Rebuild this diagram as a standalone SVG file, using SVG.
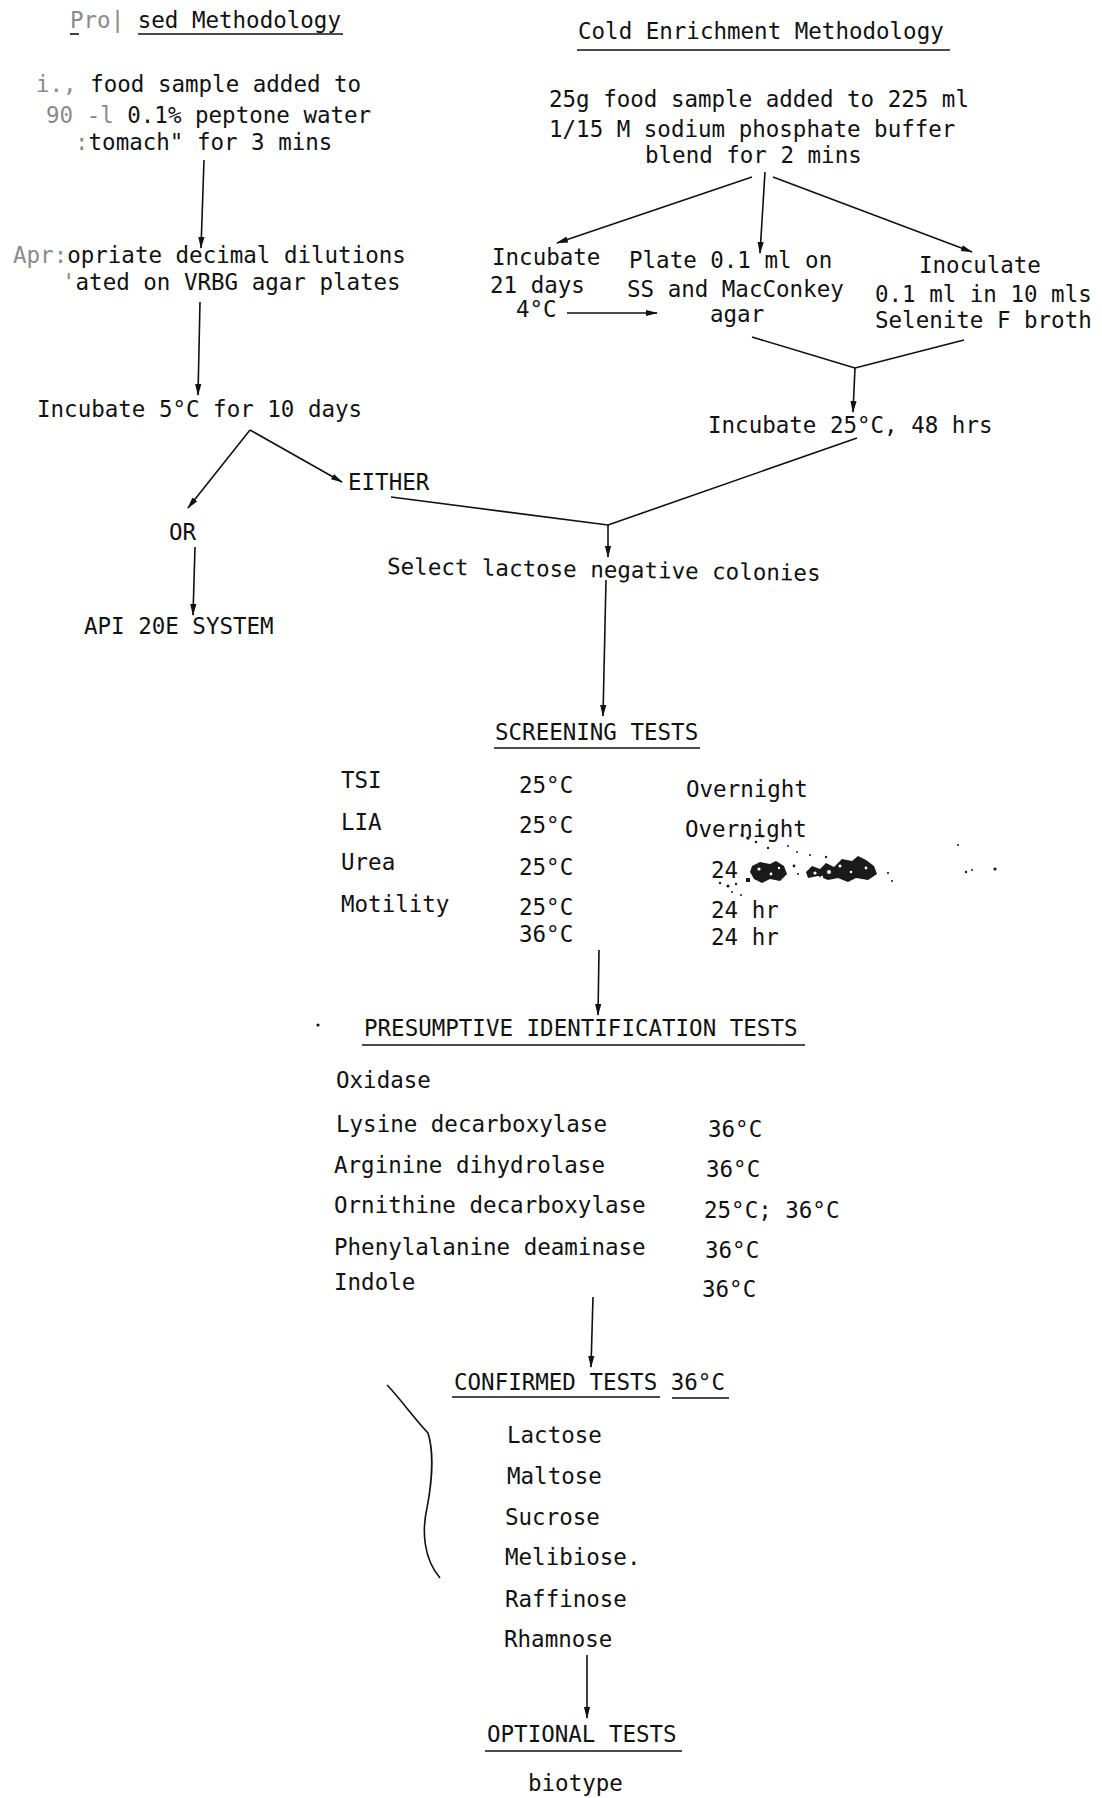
<svg xmlns="http://www.w3.org/2000/svg" width="1102" height="1798" viewBox="0 0 1102 1798">
<defs>
<style>
text{font-family:"DejaVu Sans Mono","Liberation Mono",monospace;font-size:22.5px;fill:#111;}
.faint{fill:#8a8a8a;}
.ul{stroke:#111;stroke-width:1.6;fill:none;}
.c{stroke:#111;stroke-width:1.6;fill:none;}
.a{stroke:#111;stroke-width:1.6;fill:none;marker-end:url(#ah);}
.blot{fill:#1a1a1a;}
.hole{fill:#fff;}
</style>
<marker id="ah" markerWidth="12" markerHeight="8" refX="11" refY="4" orient="auto" markerUnits="userSpaceOnUse">
<path d="M0,0.9 L12,4 L0,7.1 z" fill="#111"/>
</marker>
</defs>
<rect width="1102" height="1798" fill="#fff"/>

<g id="title-proposed">
<text x="70" y="28"><tspan class="faint">Pro|</tspan> sed Methodology</text>
<line class="ul" x1="70" y1="34" x2="79" y2="34"/>
<line class="ul" x1="138" y1="34" x2="343" y2="34"/>
</g>

<g id="title-cold">
<text x="578" y="39">Cold Enrichment Methodology</text>
<line class="ul" x1="577" y1="50" x2="950" y2="50"/>
</g>

<g id="n-food-sample-left">
<text x="36" y="92"><tspan class="faint">i.,</tspan> food sample added to</text>
<text x="46" y="123"><tspan class="faint">90 -l</tspan> 0.1% peptone water</text>
<text x="75" y="150"><tspan class="faint">:</tspan>tomach" for 3 mins</text>
</g>

<g id="n-dilutions">
<text x="13" y="263"><tspan class="faint">Apr:</tspan>opriate decimal dilutions</text>
<text x="62" y="290"><tspan class="faint">'</tspan>ated on VRBG agar plates</text>
</g>

<g id="n-incubate5">
<text x="37" y="417">Incubate 5°C for 10 days</text>
</g>

<g id="n-either"><text x="348" y="490">EITHER</text></g>
<g id="n-or"><text x="169" y="540">OR</text></g>
<g id="n-api"><text x="84" y="634">API 20E SYSTEM</text></g>

<g id="n-cold-sample">
<text x="549" y="107">25g food sample added to 225 ml</text>
<text x="549" y="137">1/15 M sodium phosphate buffer</text>
<text x="645" y="163">blend for 2 mins</text>
</g>

<g id="n-incubate21">
<text x="492" y="265">Incubate</text>
<text x="490" y="293">21 days</text>
<text x="516" y="317">4°C</text>
</g>

<g id="n-plate">
<text x="629" y="268">Plate 0.1 ml on</text>
<text x="627" y="297">SS and MacConkey</text>
<text x="710" y="322">agar</text>
</g>

<g id="n-inoculate">
<text x="919" y="273">Inoculate</text>
<text x="875" y="302">0.1 ml in 10 mls</text>
<text x="875" y="328">Selenite F broth</text>
</g>

<g id="n-incubate25">
<text x="708" y="433">Incubate 25°C, 48 hrs</text>
</g>

<g id="n-select">
<text x="387" y="574" transform="rotate(0.9 387 574)">Select lactose negative colonies</text>
</g>

<g id="n-screening">
<text x="495" y="740">SCREENING TESTS</text>
<line class="ul" x1="494" y1="748" x2="700" y2="748"/>
<text x="341" y="788">TSI</text>
<text x="519" y="793">25°C</text>
<text x="686" y="797">Overnight</text>
<text x="341" y="830">LIA</text>
<text x="519" y="833">25°C</text>
<text x="685" y="837">Overnight</text>
<text x="341" y="870">Urea</text>
<text x="519" y="875">25°C</text>
<text x="711" y="878">24</text>
<text x="341" y="912">Motility</text>
<text x="519" y="915">25°C</text>
<text x="519" y="942">36°C</text>
<text x="711" y="918">24 hr</text>
<text x="711" y="945">24 hr</text>
<g id="smudge">
<path class="blot" d="M752,866 L760,862 L770,864 L776,861 L784,866 L787,874 L780,881 L770,879 L762,883 L754,879 L750,872 z"/>
<circle class="hole" cx="759" cy="869" r="1.6"/>
<circle class="hole" cx="771" cy="874" r="1.4"/>
<circle class="hole" cx="779" cy="868" r="1.2"/>
<path class="blot" d="M806,872 L812,866 L820,869 L826,863 L834,867 L842,859 L852,861 L858,856 L866,860 L874,866 L877,874 L868,880 L856,878 L848,882 L838,878 L828,880 L818,876 L808,878 z"/>
<circle class="hole" cx="815" cy="873" r="1.6"/>
<circle class="hole" cx="829" cy="872" r="2"/>
<circle class="hole" cx="840" cy="866" r="1.5"/>
<circle class="hole" cx="851" cy="872" r="1.3"/>
<circle class="hole" cx="866" cy="868" r="1.4"/>
<circle class="hole" cx="822" cy="877" r="1.2"/>
<rect class="blot" x="746" y="878" width="4" height="4"/>
<circle class="blot" cx="742" cy="835" r="1.5"/>
<circle class="blot" cx="748" cy="838" r="1.8"/>
<circle class="blot" cx="756" cy="842" r="1.3"/>
<circle class="blot" cx="762" cy="836" r="1.6"/>
<circle class="blot" cx="768" cy="848" r="1.2"/>
<circle class="blot" cx="788" cy="846" r="1"/>
<circle class="blot" cx="797" cy="852" r="1"/>
<circle class="blot" cx="810" cy="855" r="1"/>
<circle class="blot" cx="826" cy="857" r="1.2"/>
<circle class="blot" cx="794" cy="866" r="1.4"/>
<circle class="blot" cx="798" cy="874" r="1"/>
<circle class="blot" cx="720" cy="883" r="1.2"/>
<circle class="blot" cx="728" cy="886" r="1.6"/>
<circle class="blot" cx="736" cy="884" r="1.2"/>
<circle class="blot" cx="732" cy="892" r="1"/>
<circle class="blot" cx="741" cy="895" r="1"/>
<circle class="blot" cx="888" cy="873" r="1.1"/>
<circle class="blot" cx="892" cy="881" r="1"/>
<circle class="blot" cx="958" cy="845" r="1"/>
<circle class="blot" cx="966" cy="872" r="1.2"/>
<circle class="blot" cx="972" cy="870" r="1"/>
<circle class="blot" cx="995" cy="869" r="1.6"/>
</g>
</g>

<g id="n-presumptive">
<circle cx="318" cy="1025" r="1.6" fill="#111"/>
<text x="364" y="1036">PRESUMPTIVE IDENTIFICATION TESTS</text>
<line class="ul" x1="362" y1="1045" x2="805" y2="1045"/>
<text x="336" y="1088">Oxidase</text>
<text x="336" y="1132">Lysine decarboxylase</text>
<text x="708" y="1137">36°C</text>
<text x="334" y="1173">Arginine dihydrolase</text>
<text x="706" y="1177">36°C</text>
<text x="334" y="1213">Ornithine decarboxylase</text>
<text x="704" y="1218">25°C; 36°C</text>
<text x="334" y="1255">Phenylalanine deaminase</text>
<text x="705" y="1258">36°C</text>
<text x="334" y="1290">Indole</text>
<text x="702" y="1297">36°C</text>
</g>

<g id="n-confirmed">
<text x="454" y="1390">CONFIRMED TESTS 36°C</text>
<line class="ul" x1="452" y1="1397" x2="660" y2="1397"/>
<line class="ul" x1="672" y1="1398" x2="729" y2="1398"/>
<text x="507" y="1443">Lactose</text>
<text x="507" y="1484">Maltose</text>
<text x="505" y="1525">Sucrose</text>
<text x="505" y="1565">Melibiose.</text>
<text x="505" y="1607">Raffinose</text>
<text x="504" y="1647">Rhamnose</text>
</g>

<g id="brace">
<path class="c" d="M387,1385 C398,1396 414,1418 428,1433 C434,1452 432,1482 427,1508 C422,1530 423,1558 440,1578" stroke-width="1.3"/>
</g>

<g id="n-optional">
<text x="487" y="1742">OPTIONAL TESTS</text>
<line class="ul" x1="485" y1="1751" x2="682" y2="1751"/>
</g>

<g id="n-biotype">
<text x="528" y="1791">biotype</text>
</g>

<g id="connectors">
<line class="a" x1="204" y1="160" x2="201" y2="248"/>
<line class="a" x1="200" y1="302" x2="198" y2="395"/>
<line class="a" x1="250" y1="430" x2="188" y2="508"/>
<line class="a" x1="250" y1="430" x2="342" y2="482"/>
<line class="a" x1="195" y1="547" x2="193" y2="615"/>
<line class="c" x1="391" y1="497" x2="608" y2="525"/>
<line class="c" x1="857" y1="438" x2="608" y2="525"/>
<line class="a" x1="608" y1="525" x2="608" y2="557"/>
<line class="a" x1="606" y1="580" x2="603" y2="716"/>
<line class="a" x1="752" y1="177" x2="557" y2="243"/>
<line class="a" x1="765" y1="172" x2="760" y2="253"/>
<line class="a" x1="773" y1="177" x2="972" y2="252"/>
<line class="a" x1="567" y1="313" x2="657" y2="313"/>
<line class="c" x1="752" y1="337" x2="855" y2="368"/>
<line class="c" x1="964" y1="340" x2="855" y2="368"/>
<line class="a" x1="855" y1="368" x2="853" y2="412"/>
<line class="a" x1="599" y1="950" x2="598" y2="1015"/>
<line class="a" x1="593" y1="1297" x2="591" y2="1367"/>
<line class="a" x1="587" y1="1655" x2="587" y2="1718"/>
</g>
</svg>
